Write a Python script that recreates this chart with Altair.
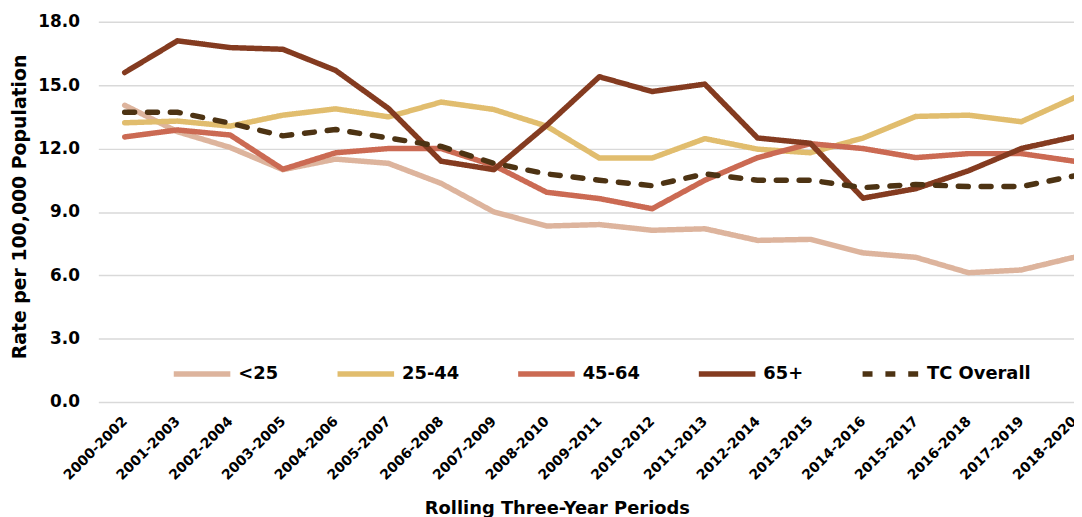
import altair as alt
import pandas as pd

periods = ["2000-2002", "2001-2003", "2002-2004", "2003-2005", "2004-2006",
           "2005-2007", "2006-2008", "2007-2009", "2008-2010", "2009-2011",
           "2010-2012", "2011-2013", "2012-2014", "2013-2015", "2014-2016",
           "2015-2017", "2016-2018", "2017-2019", "2018-2020"]

series_names = ["<25", "25-44", "45-64", "65+", "TC Overall"]

under_25 = [14.05, 12.8, 12.05, 11.0, 11.5, 11.3, 10.35, 9.0, 8.33, 8.4,
            8.13, 8.2, 7.65, 7.7, 7.06, 6.85, 6.12, 6.25, 6.85]
age_25_44 = [13.22, 13.3, 13.06, 13.58, 13.88, 13.5, 14.2, 13.85, 13.06, 11.55,
             11.55, 12.47, 11.97, 11.8, 12.5, 13.52, 13.58, 13.27, 14.4]
age_45_64 = [12.55, 12.88, 12.64, 11.02, 11.8, 12.0, 12.0, 11.2, 9.93, 9.63,
             9.15, 10.5, 11.57, 12.23, 12.0, 11.57, 11.76, 11.76, 11.4]
age_65_plus = [15.6, 17.1, 16.78, 16.7, 15.7, 13.9, 11.4, 11.0, 13.1, 15.4,
               14.7, 15.05, 12.5, 12.25, 9.65, 10.1, 10.95, 12.0, 12.55]
tc_overall = [13.72, 13.72, 13.2, 12.6, 12.9, 12.5, 12.1, 11.3, 10.8, 10.5,
              10.24, 10.8, 10.5, 10.5, 10.15, 10.3, 10.2, 10.2, 10.7]

y_ticks = [0, 3, 6, 9, 12, 15, 18]

series_colors = ["#DDB49D", "#E1BD6E", "#CB6A53", "#843B20", "#4D3313"]
series_dashes = [[1, 0], [1, 0], [1, 0], [1, 0], [10, 13]]

rows = []
for name, vals in zip(series_names, [under_25, age_25_44, age_45_64, age_65_plus, tc_overall]):
    for p, v in zip(periods, vals):
        rows.append({"period": p, "series": name, "rate": v})
df = pd.DataFrame(rows)

FONT = "DejaVu Sans"

legend = alt.Legend(
    title=None, orient="none", legendX=73, legendY=323, direction="horizontal",
    columns=5, symbolType="stroke", symbolSize=3249, symbolStrokeWidth=5.5,
    labelFont=FONT, labelFontSize=18, labelFontWeight="bold", labelColor="black",
    labelOffset=5, columnPadding=48, padding=0, labelLimit=0,
)

chart = alt.Chart(df).mark_line(
    strokeWidth=5.5, strokeCap="round", strokeJoin="round"
).encode(
    x=alt.X(
        "period:N", sort=periods,
        scale=alt.Scale(type="point", padding=0.25, align=1),
        axis=alt.Axis(
            title="Rolling Three-Year Periods", labelAngle=315, labelAlign="right",
            labelBaseline="middle", labelPadding=17, labelFont=FONT, labelFontSize=14,
            labelFontWeight="bold", labelColor="black", domain=False, ticks=False,
            grid=False, labelOverlap=False,
            titleX=462, titleY=112, titleBaseline="alphabetic", titleAlign="center",
            titleFont=FONT, titleFontSize=18, titleFontWeight="bold", titleColor="black",
        ),
    ),
    y=alt.Y(
        "rate:Q",
        scale=alt.Scale(domain=[0, 18], nice=False),
        axis=alt.Axis(
            values=y_ticks, format=".1f", title="Rate per 100,000 Population",
            labelFont=FONT, labelFontSize=17, labelFontWeight="bold", labelColor="black",
            labelPadding=19, ticks=False, domain=False,
            gridColor="#D9D9D9", gridWidth=1.5,
            titleX=-73, titleY=186, titleBaseline="alphabetic", titleAlign="center",
            titleFont=FONT, titleFontSize=19, titleFontWeight="bold", titleColor="black",
        ),
    ),
    color=alt.Color(
        "series:N", sort=series_names,
        scale=alt.Scale(domain=series_names, range=series_colors), legend=legend,
    ),
    strokeDash=alt.StrokeDash(
        "series:N", sort=series_names,
        scale=alt.Scale(domain=series_names, range=series_dashes), legend=legend,
    ),
).properties(
    width=983, height=383,
    autosize=alt.AutoSizeParams(type="none"),
    padding={"left": 91, "top": 12, "right": 0, "bottom": 120},
).configure_view(strokeWidth=0)

chart.save("out.html", embed_options={"renderer": "svg", "actions": False})
